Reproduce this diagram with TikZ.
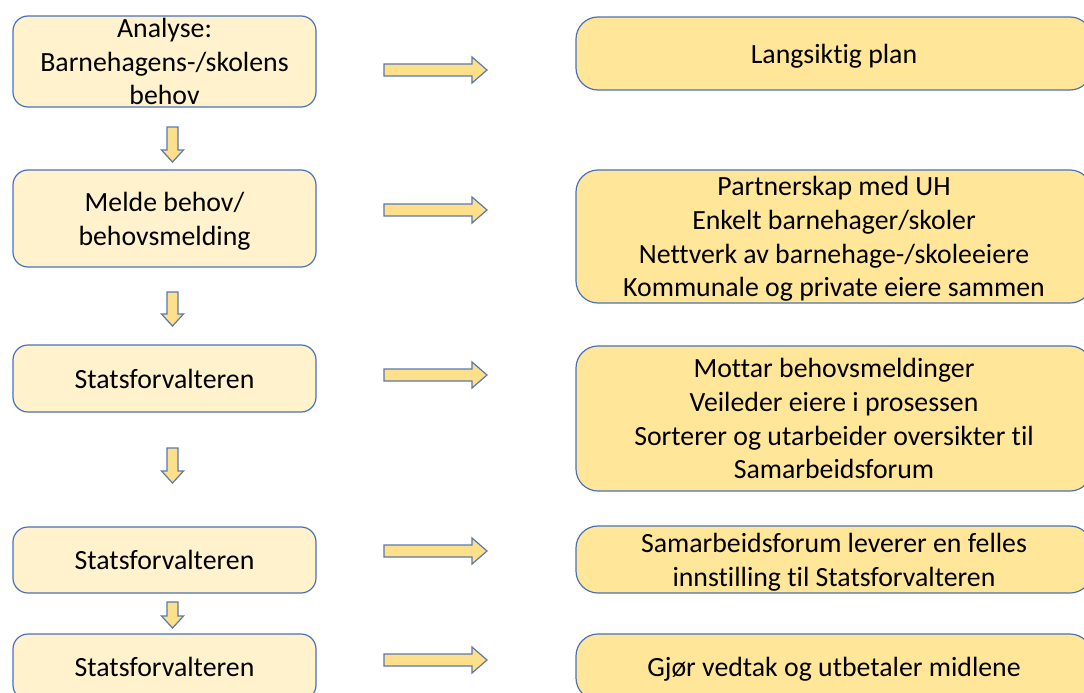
\documentclass[tikz,border=0pt]{standalone}
\usepackage{fontspec}
\setmainfont{Carlito}[Ligatures={NoCommon}]
\definecolor{lfill}{HTML}{FFF2CC}
\definecolor{rfill}{HTML}{FFE699}
\definecolor{bordc}{HTML}{4A72B8}
\definecolor{arrc}{HTML}{5878B0}
\definecolor{afill}{HTML}{FFE08A}
\newcommand\harrow[1]{\draw[barrow] (384,{#1-6}) -- (472,{#1-6}) -- (472,{#1-13}) -- (487,#1) -- (472,{#1+13}) -- (472,{#1+6}) -- (384,{#1+6}) -- cycle;}
\newcommand\varrow[2]{\draw[barrow] (167,#1) -- (178,#1) -- (178,{#2-12}) -- (183.5,{#2-12}) -- (172.5,#2) -- (161.5,{#2-12}) -- (167,{#2-12}) -- cycle;}
\begin{document}
\begin{tikzpicture}[x=1pt,y=-1pt,
 box/.style={draw=bordc, line width=1.2pt, align=center, font=\fontsize{27.8}{33.7}\selectfont, inner sep=0pt, text depth=0pt},
 lbox/.style={box, fill=lfill, rounded corners=15pt, minimum width=303pt},
 rbox/.style={box, fill=rfill, rounded corners=22pt, minimum width=516pt},
 barrow/.style={draw=arrc, fill=afill, line width=1.2pt, line join=miter}]
\useasboundingbox (0,0) rectangle (1084,693);
\clip (0,0) rectangle (1084,693);
% left column
\node[lbox, minimum height=91pt] (l1) at (164.5,61.5) {Analyse:\\Barnehagens-/skolens\\behov};
\node[lbox, minimum height=97pt] (l2) at (164.5,218.5) {Melde behov/\\behovsmelding};
\node[lbox, minimum height=67pt] (l3) at (164.5,378.5) {Statsforvalteren};
\node[lbox, minimum height=66pt] (l4) at (164.5,560) {Statsforvalteren};
\node[lbox, minimum height=66pt] (l5) at (164.5,667) {Statsforvalteren};
% right column
\node[rbox, minimum height=73pt] (r1) at (834,53.5) {Langsiktig plan};
\node[rbox, minimum height=133pt] (r2) at (834,236.5) {Partnerskap med UH\\Enkelt barnehager/skoler\\Nettverk av barnehage-/skoleeiere\\Kommunale og private eiere sammen};
\node[rbox, minimum height=145pt] (r3) at (834,418.5) {Mottar behovsmeldinger\\Veileder eiere i prosessen\\Sorterer og utarbeider oversikter til\\Samarbeidsforum};
\node[rbox, minimum height=67pt] (r4) at (834,559.5) {Samarbeidsforum leverer en felles\\innstilling til Statsforvalteren};
\node[rbox, minimum height=66pt] (r5) at (834,667) {Gjør vedtak og utbetaler midlene};
% horizontal arrows
\harrow{70}
\harrow{210}
\harrow{375}
\harrow{551}
\harrow{660}
% vertical arrows
\varrow{127}{162}
\varrow{292}{326}
\varrow{448}{483}
\varrow{602}{628}
\end{tikzpicture}
\end{document}
